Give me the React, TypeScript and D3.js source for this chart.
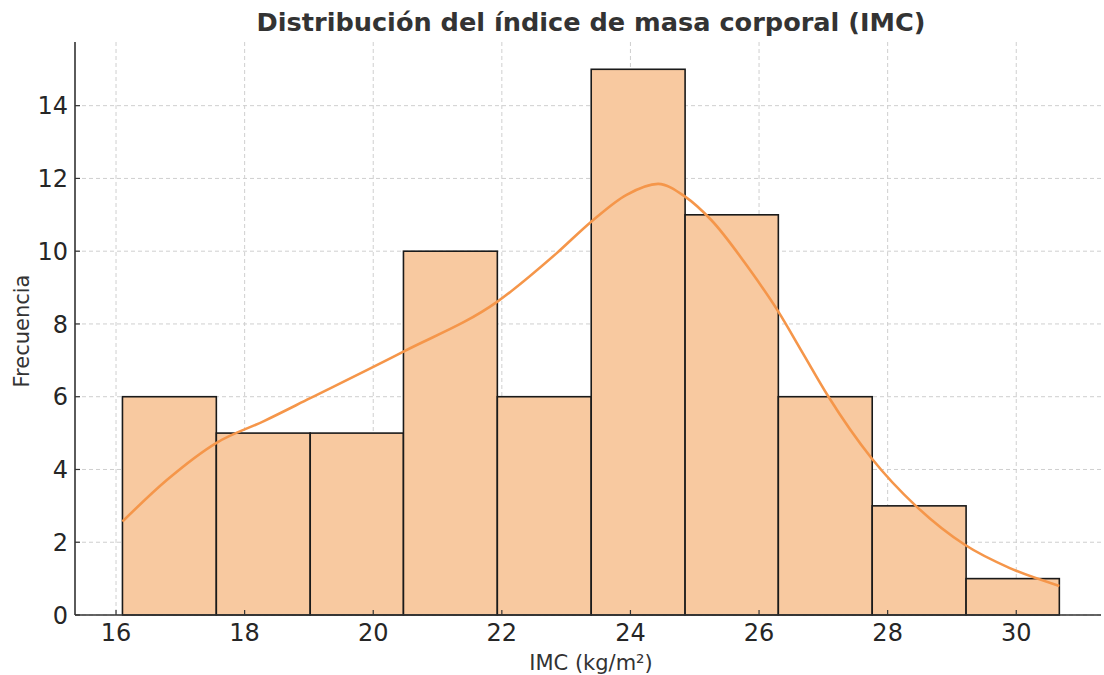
import React from "react";
import * as d3 from "d3";

const binEdges = [16.1, 17.56, 19.02, 20.47, 21.93, 23.39, 24.85, 26.3, 27.76, 29.22, 30.67];
const counts = [6, 5, 5, 10, 6, 15, 11, 6, 3, 1];
const kdeX = [16.1, 16.79, 17.57, 18.3, 19.02, 20.47, 21.92, 22.85, 23.39, 23.94, 24.43, 24.85, 25.26, 25.86, 26.3, 26.68, 27.08, 27.75, 28.45, 29.2, 29.9, 30.67];
const kdeY = [2.57, 3.71, 4.74, 5.33, 5.96, 7.24, 8.6, 9.94, 10.81, 11.55, 11.85, 11.5, 10.85, 9.48, 8.34, 7.2, 6.0, 4.31, 2.98, 1.93, 1.29, 0.8];
const xTicks = [16, 18, 20, 22, 24, 26, 28, 30];
const yTicks = [0, 2, 4, 6, 8, 10, 12, 14];

const W = 1104, H = 675;
const left = 75, right = 1101, top = 42, bottom = 615;
const FONT = "DejaVu Sans, sans-serif";

export default function App() {
  const x = d3.scaleLinear().domain([15.362, 31.318]).range([left, right]);
  const y = d3.scaleLinear().domain([0, 15.75]).range([bottom, top]);
  const pts = kdeX.map((v, i) => [v, kdeY[i]] as [number, number]);
  const line = d3.line<[number, number]>().x(d => x(d[0])).y(d => y(d[1])).curve(d3.curveMonotoneX);

  return (
    <svg width={W} height={H} style={{ position: "absolute", left: 0, top: 0, background: "#fff" }} fontFamily={FONT}>
      {xTicks.map(t => (
        <line key={"gx" + t} x1={x(t)} x2={x(t)} y1={top} y2={bottom} stroke="#cfcfcf" strokeWidth={1} strokeDasharray="4,3" />
      ))}
      {yTicks.map(t => (
        <line key={"gy" + t} x1={left} x2={right} y1={y(t)} y2={y(t)} stroke="#cfcfcf" strokeWidth={1} strokeDasharray="4,3" />
      ))}
      {counts.map((c, i) => (
        <rect key={"b" + i} x={x(binEdges[i])} y={y(c)} width={x(binEdges[i + 1]) - x(binEdges[i])} height={y(0) - y(c)}
          fill="#f8c9a0" stroke="#1a1a1a" strokeWidth={1.6} />
      ))}
      <path d={line(pts) || ""} fill="none" stroke="#f5964a" strokeWidth={2.6} />
      <line x1={left} x2={left} y1={top} y2={bottom} stroke="#333" strokeWidth={1.6} />
      <line x1={left} x2={right} y1={bottom} y2={bottom} stroke="#333" strokeWidth={1.6} />
      {xTicks.map(t => (
        <g key={"tx" + t}>
          <line x1={x(t)} x2={x(t)} y1={bottom} y2={bottom - 5} stroke="#333" strokeWidth={1.2} />
          <text x={x(t)} y={641} textAnchor="middle" fontSize={24} fill="#262626">{t}</text>
        </g>
      ))}
      {yTicks.map(t => (
        <g key={"ty" + t}>
          <line x1={left} x2={left + 5} y1={y(t)} y2={y(t)} stroke="#333" strokeWidth={1.2} />
          <text x={left - 7} y={y(t) + 8.7} textAnchor="end" fontSize={24} fill="#262626">{t}</text>
        </g>
      ))}
      <text x={591} y={670} textAnchor="middle" fontSize={21} fill="#333">IMC (kg/m²)</text>
      <text transform={`translate(29, ${331}) rotate(-90)`} textAnchor="middle" fontSize={21} fill="#333">Frecuencia</text>
      <text x={591} y={31} textAnchor="middle" fontSize={25.6} fontWeight="bold" fill="#333">Distribución del índice de masa corporal (IMC)</text>
    </svg>
  );
}
